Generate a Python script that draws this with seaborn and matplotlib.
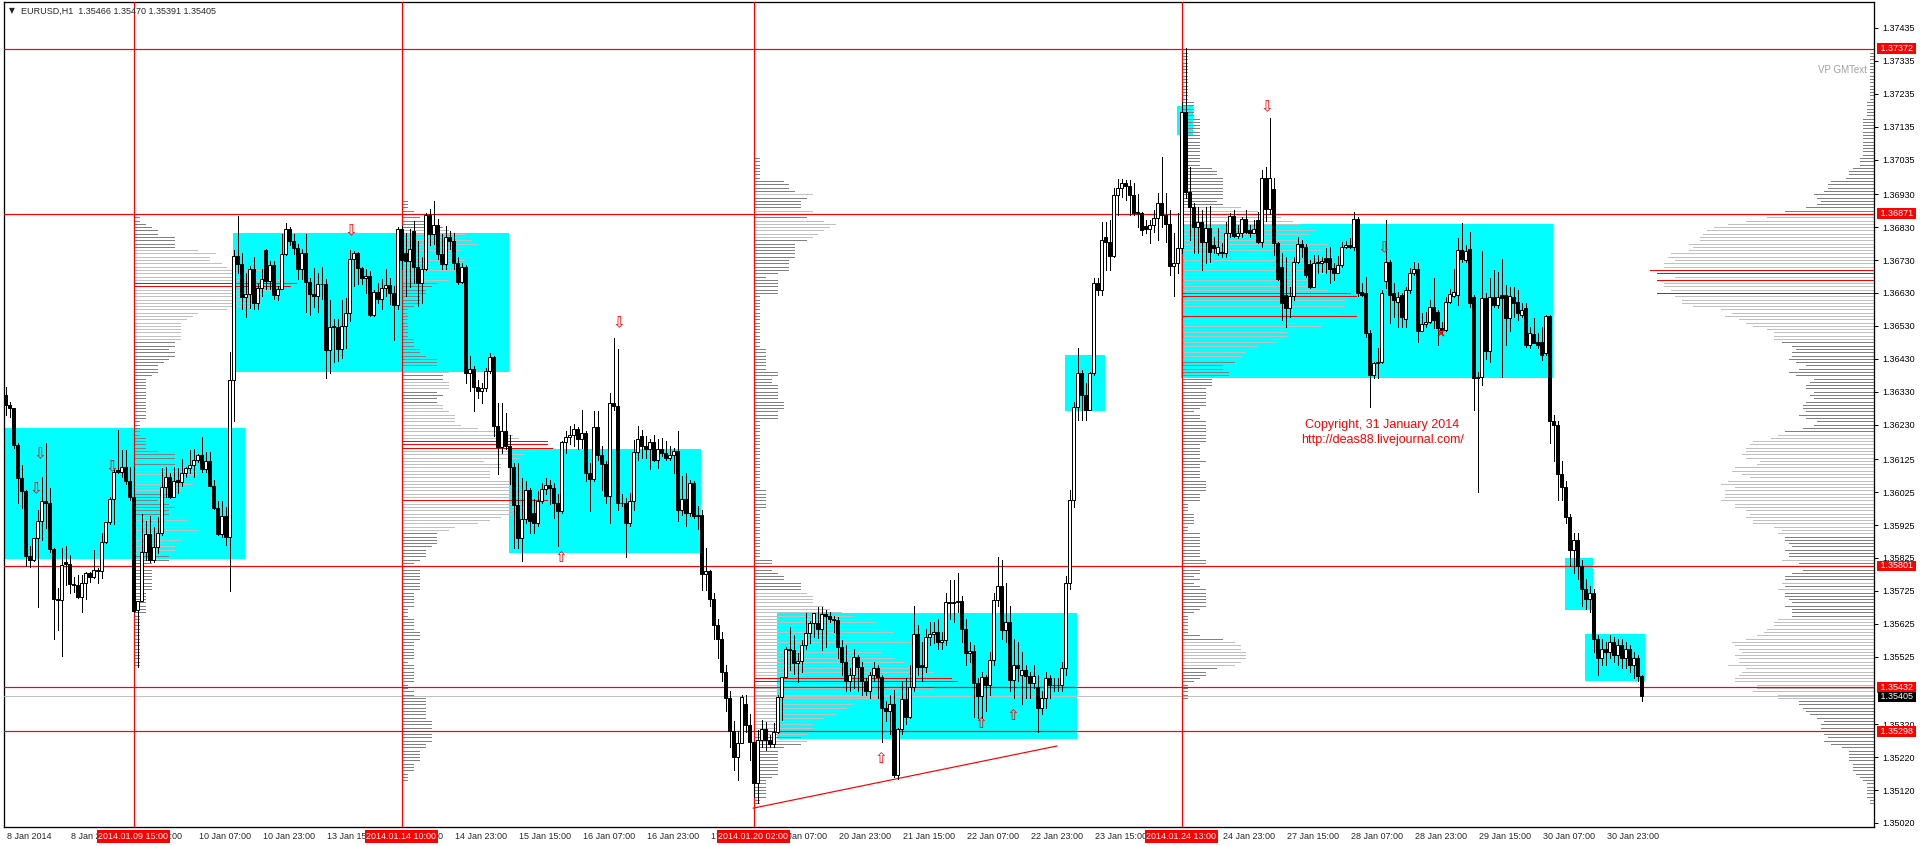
import numpy as np
import pandas as pd
import matplotlib
matplotlib.use("Agg")
import matplotlib.pyplot as plt
import matplotlib.transforms as mtransforms
from matplotlib.patches import Rectangle
import seaborn as sns

# EURUSD H1, bar 0 = 8 Jan 2014 07:00. Prices in pips above 1.35000.
open_pips = [
    132, 129, 128, 116.8, 106.9, 102.7, 83.2, 81.9, 88.5, 93.7,
    99.8, 99.1, 85.2, 69.9, 69.8, 81.4, 80.7, 74.6, 74.4, 70.7,
    74.9, 77.8, 76.6, 78.9, 78.5, 87.3, 93.3, 100.4, 109.2, 108.7,
    110, 106, 101, 66.7, 69.4, 84.2, 89.7, 81.9, 85.7, 90,
    104, 107, 101.1, 106.2, 105.7, 108.2, 109.7, 110.7, 112.3, 113.8,
    109.4, 112, 104.5, 97.6, 89.8, 95.3, 89, 136.5, 174.2, 171.7,
    161.9, 162.6, 170.4, 160, 164.4, 176, 166.6, 171.5, 162.3, 164.3,
    174.7, 182.5, 178.8, 176.6, 170.2, 175, 166.3, 162.6, 162.1, 165.8,
    165.6, 145.7, 152.8, 152.7, 145.9, 153, 157, 173.2, 175.2, 170.7,
    167.7, 168.3, 156.3, 163.4, 161.1, 164.6, 165.3, 162.9, 159.3, 182.5,
    175, 172.7, 181.8, 171, 166.1, 170.4, 186.6, 181, 183.6, 174.7,
    171.7, 180, 178.8, 172.2, 166.3, 171, 138.6, 139.8, 134.5, 133.2,
    134.2, 139.3, 143.6, 122.6, 116.3, 121, 116.5, 110, 98.5, 88.6,
    94.2, 103.1, 96.2, 93, 99.8, 103.5, 104.8, 103.8, 99.2, 96.7,
    117.7, 119.2, 119.8, 121.7, 118.7, 120.5, 108.4, 106.5, 122.4, 113.9,
    110.9, 101.3, 129.7, 128.6, 99.2, 99.1, 93, 99.7, 114.6, 119.5,
    116.5, 115.5, 117.7, 112.4, 115.5, 114.4, 112.9, 113.9, 114.9, 97.2,
    100.5, 96.2, 105.3, 95.2, 95.5, 77.5, 78.5, 70, 62, 58,
    48, 40, 30, 22, 26.2, 38, 31.8, 26.5, 14, 27.2,
    30.4, 27.2, 25.9, 29.7, 40.2, 46.2, 55, 54.6, 50.5, 51.3,
    56.1, 59.6, 62.8, 62.6, 60.8, 65.5, 64.9, 64, 63.8, 55.5,
    51, 45, 47, 52.3, 49.3, 45, 42.2, 46.9, 49.2, 46.2,
    36.8, 36, 38, 16.6, 30.7, 39.6, 34.3, 43.4, 59.4, 50,
    49.3, 58.6, 59.4, 60.1, 57.1, 57.6, 69.2, 68.7, 69.2, 69.5,
    60.8, 53.7, 54.3, 44.4, 40.6, 46.2, 43.9, 51.5, 69.7, 74,
    60.6, 63.2, 45.4, 50, 47, 48.5, 46.6, 44.4, 43.4, 36.8,
    39.9, 46, 44, 43.8, 44, 49, 75, 100, 128.5, 138.6,
    132, 127.5, 138.6, 165.9, 163.9, 180.1, 178.6, 174.2, 192.8, 194.8,
    196.5, 195.5, 192.8, 187.7, 187.2, 183.3, 182.3, 183.6, 185.7, 190.2,
    186.7, 184, 171.2, 172.2, 176.8, 218, 193.8, 189.2, 183.1, 184.7,
    178.6, 182.6, 177.6, 175, 175.5, 175.2, 181.1, 186.4, 180.3, 181.3,
    185.4, 182.1, 181.3, 185.2, 178.6, 197.8, 188.4, 194.5, 178.1, 171,
    162.4, 158.3, 162.1, 172.5, 177.9, 177.1, 171.8, 164.9, 172.5, 172.2,
    173.5, 173.5, 170.5, 169, 171.5, 176.9, 177.6, 177.1, 185.4, 163.4,
    162.9, 150.7, 138.1, 141.6, 142.1, 166.5, 172.5, 162.9, 160.4, 162.4,
    155, 163.9, 169, 170.2, 151.3, 153.6, 154.3, 158.8, 157.3, 152.3,
    151.8, 160.4, 162.2, 162.4, 176.1, 173, 176.3, 161.9, 137.1, 137.6,
    161.4, 145.4, 161.9, 159.4, 162.4, 162.4, 155.3, 161.9, 160.4, 156.3,
    158.3, 147.2, 150.5, 148.2, 148.2, 144.7, 156, 124, 123, 108,
    104, 95, 85, 88, 80, 73, 70, 72, 58, 52,
    55, 54, 57, 53, 56, 52, 55, 50, 52, 46.6,
]
high_pips = [
    134.5, 130, 128.2, 117.3, 110.7, 103, 86, 88.5, 97.1, 107.2,
    117.5, 103.7, 85.6, 73.3, 85.4, 86, 83.4, 76.8, 77.3, 77.3,
    78.3, 78.3, 85, 79.4, 90, 93.5, 100.9, 109.6, 121.4, 115.3,
    115.3, 110, 110, 69.4, 95.8, 93.7, 95.3, 92, 95, 109.7,
    110, 108.2, 110, 109.7, 112.5, 110.2, 115.3, 115.5, 114.1, 119.2,
    114.8, 114.8, 106.2, 99.8, 99.8, 98.1, 145, 176, 186.4, 175.2,
    169, 171.2, 174, 166.1, 170.2, 176.5, 172.7, 172.7, 165, 180.8,
    184.2, 182.9, 180.8, 177.8, 176.3, 180.8, 167.6, 170.7, 169, 170.9,
    167.1, 160.8, 155, 155.2, 161, 161.6, 176.1, 175.7, 175.5, 170.9,
    170.2, 169.7, 163.9, 166.1, 167.1, 170.4, 167.4, 165.1, 183, 183.3,
    181.3, 182.4, 184.9, 178.8, 174, 187.4, 188.6, 191, 185.4, 180.8,
    183.3, 181.8, 181.3, 174, 172, 171.4, 143.8, 140.8, 136.7, 135.7,
    140.3, 144.8, 143.8, 129.7, 129.7, 126.6, 120, 111.4, 111.4, 106.8,
    105.8, 103.8, 100.3, 102.8, 105.3, 106.8, 106.3, 105.3, 101.8, 118,
    121, 122.6, 123.1, 122.4, 127.6, 121, 111.4, 127.1, 127.1, 116.5,
    111.9, 132.5, 149.2, 146.1, 101.8, 100.7, 102.1, 118.3, 122.6, 121.5,
    119.5, 118.5, 120, 118.7, 119, 118, 116.5, 116, 121, 107.4,
    108.4, 106.3, 105.8, 98.2, 97.2, 85.6, 79, 72, 64, 60,
    50, 42, 33, 30, 40.9, 40.9, 35, 27, 30.2, 33.3,
    32.8, 28.7, 32.3, 40.9, 46.4, 55.6, 61.6, 59.1, 53.5, 57.6,
    65.9, 63.3, 65.9, 67.7, 67.7, 66.7, 66.2, 65, 64.6, 57.5,
    56, 49, 55, 53, 51, 46, 48, 51, 50, 47,
    39, 41, 42.4, 31, 45, 46, 50, 68, 62, 57,
    61, 63, 63, 64, 60, 72, 75.8, 75.8, 78, 71,
    64, 57, 56, 46, 48, 47, 54, 72, 82.7, 82,
    75, 68, 58, 57, 54, 50, 48, 50, 47, 42,
    48, 47, 46, 46, 51, 77, 103, 130, 146.2, 139.6,
    135.6, 139, 167.5, 167.5, 184.7, 184.7, 185.2, 194.8, 197.5, 197.5,
    197.3, 197.3, 196.5, 193.1, 187.7, 185.2, 185.2, 188.2, 193.3, 204.4,
    193.3, 188.2, 181.1, 187.2, 221, 237.5, 201.4, 190.2, 189.2, 188.2,
    189.2, 189.4, 180.1, 182.6, 178.1, 184.7, 187.2, 188.2, 183.6, 186.2,
    188.2, 183.6, 185.2, 187.7, 200.4, 201.4, 216.1, 198, 178.6, 175,
    174, 164.9, 174, 180.1, 179.1, 178, 173, 174.5, 174.5, 174,
    176.6, 177.1, 172, 174.2, 178.6, 178.9, 179.6, 187.7, 186, 165.9,
    168, 151.7, 142.1, 146.2, 163.9, 185.2, 173, 165.9, 163.4, 162.9,
    164.9, 170.5, 172.5, 172, 156.8, 157.3, 160.9, 167.5, 157.8, 154.3,
    161.9, 164.1, 170.2, 179.6, 184.4, 177.6, 181.6, 162.4, 139, 175.8,
    163, 167.5, 170, 169.5, 173.2, 165.4, 164.9, 164.9, 163.9, 159.9,
    159.9, 152.8, 155.3, 150.7, 152.8, 156.3, 156.3, 126, 124, 112,
    106, 96, 90, 90, 82, 76, 74, 73, 59, 58,
    57, 59, 58.5, 58, 58, 57, 56, 54, 53, 47,
]
low_pips = [
    126, 125.4, 115.8, 99.1, 97.6, 80.2, 79.7, 81.5, 67.7, 88,
    91.5, 84.4, 58, 60.6, 52.7, 74.3, 71.8, 72.3, 70.2, 66.2,
    70, 75.3, 76.3, 74.8, 76.5, 87, 92.8, 92.8, 108.2, 107.2,
    105, 100, 66, 49.3, 69.4, 81.9, 81.4, 81.4, 84, 89.5,
    101.1, 100.6, 101, 102.2, 104.4, 107.2, 108.2, 107.2, 111.8, 108.7,
    108.7, 104.4, 97.4, 89.5, 89, 86.5, 72.6, 124.1, 169.2, 158,
    155.8, 158.5, 158.2, 158.2, 162.1, 164.1, 164.1, 161.1, 161, 164.1,
    174.4, 177.5, 174.7, 167.1, 167.1, 157.2, 156.2, 158.8, 157.2, 161.1,
    137.2, 138.6, 142, 142.3, 143.3, 146.4, 154.5, 165.1, 165.6, 165.6,
    163.1, 156, 156, 160, 158, 162.1, 159.6, 148.7, 158, 170.2,
    162.1, 164.9, 166.1, 159, 160, 170, 177.5, 178, 173.2, 170.2,
    170.4, 176.3, 170.2, 165.6, 166.1, 135.7, 133.2, 127.1, 131.2, 129.7,
    133.2, 138.8, 119.5, 107.9, 114.4, 115.5, 105, 85.6, 85.6, 81.5,
    93.2, 90.1, 90.1, 92.2, 99.2, 101.8, 99, 94.7, 86.1, 96.2,
    114.4, 117, 116.5, 115.5, 116, 105.8, 96.7, 105.8, 112.4, 103.3,
    99.2, 93, 127.6, 97.2, 98.2, 82.8, 92.2, 97.2, 112.4, 112.9,
    112.9, 109.6, 111.9, 109.9, 113.6, 112.4, 112.4, 108.4, 93.7, 95.7,
    92.2, 95.2, 94.7, 91.2, 72.9, 72.9, 68, 58, 52, 45,
    36, 25, 18, 15, 26.2, 29.7, 21, 10, 8, 25.2,
    24.2, 25.2, 25.2, 29.2, 33.3, 46.2, 48.5, 47.4, 44.9, 48,
    55, 56.6, 58.6, 58.1, 54.5, 55.6, 63.2, 60, 52, 47,
    42, 42, 43, 42, 41, 41, 40, 45, 40, 26.7,
    33, 29, 16.1, 15.5, 29, 32, 34, 42, 47, 45,
    48, 56, 56.6, 55, 55, 56, 64, 63, 66, 57,
    50, 51, 34.3, 34, 34, 36, 41, 50, 68, 58,
    57, 42, 40, 45, 38, 40, 40, 43, 29.7, 35,
    37, 40, 42, 42, 42, 47, 73, 98, 124.4, 124.4,
    124.4, 127.5, 138, 162.4, 162.4, 170, 170, 174, 186.7, 192.3,
    191.3, 186.7, 186.7, 183.1, 180.6, 181.1, 178.3, 181.6, 179.1, 183,
    178.6, 168.5, 162.1, 169, 175, 192, 179.1, 175, 175, 170,
    172, 172.5, 175, 174.5, 174, 174, 180.1, 180.1, 179.6, 180.1,
    181.1, 180.1, 181.1, 178.1, 177.1, 185, 187, 174.5, 167, 154.8,
    152.8, 155.8, 160.9, 172, 174, 168, 164.4, 164.7, 169, 169.5,
    169, 165.9, 167, 169, 170.8, 176.6, 176.6, 176.1, 162, 162,
    149.7, 128.5, 137.1, 137.1, 141.6, 164.4, 153.8, 155.8, 152.8, 152.8,
    152.8, 162.9, 168.5, 148.2, 151.3, 152.8, 153.8, 152.3, 147.2, 150.7,
    151.3, 159.9, 161.9, 159.3, 172.5, 172.5, 158.8, 127.4, 102.5, 135,
    143, 142, 158.8, 158.3, 137.6, 147.2, 151.3, 155.8, 154.8, 155.8,
    146.7, 146.2, 147.7, 146.2, 142.6, 144.2, 117.3, 112, 100, 100,
    93, 80, 78, 76, 68, 67, 66, 54, 47, 50,
    50, 52, 51, 50, 49, 49, 48, 46, 45, 39.1,
]
close_pips = [
    129, 128, 116.8, 106.9, 102.7, 83.2, 81.9, 88.5, 93.7, 99.8,
    99.1, 85.2, 69.9, 69.8, 80.4, 80.7, 74.6, 74.4, 70.7, 74.9,
    77.8, 76.6, 78.9, 78.5, 87.3, 93.3, 100.4, 108.7, 108.7, 110,
    106, 101, 66.5, 69.4, 84.2, 89.7, 81.9, 85.7, 90, 104,
    107, 101.1, 105.9, 105.7, 108.2, 109.7, 110.7, 112.3, 113.8, 109.4,
    112, 104.5, 97.6, 89.8, 95.3, 89, 136.5, 174.2, 171.7, 161.9,
    162.6, 170.4, 160, 164.4, 167.3, 166.6, 171.5, 162.3, 164.3, 174.7,
    182.5, 178.8, 176.6, 170.2, 175, 166.3, 162.6, 162.1, 165.8, 165.6,
    145.7, 152.8, 152.7, 145.9, 153, 157, 173.2, 175.2, 170.7, 167.7,
    168.3, 156.3, 163.4, 161.1, 164.6, 165.3, 162.9, 159.3, 182.5, 173,
    172.7, 176.3, 171, 166.1, 170.4, 186.6, 181, 183.6, 174.7, 171.7,
    180, 178.8, 172.2, 166.3, 171, 138.6, 139.8, 134.5, 133.2, 134.2,
    139.3, 143.6, 122.6, 116.3, 121, 116.5, 110, 98.5, 88.6, 94.2,
    103.1, 93.7, 93, 99.8, 103.5, 104.8, 103.8, 99.2, 96.7, 117.7,
    119.2, 119.8, 121.7, 118.7, 120.5, 108.4, 106.5, 122.4, 113.9, 110.9,
    101.3, 129.7, 128.6, 99.2, 99.1, 93, 99.7, 114.6, 118.7, 116.5,
    115.5, 117.7, 112.4, 115.5, 114.4, 112.9, 113.9, 114.9, 97.2, 100.5,
    96.2, 105.3, 95.2, 95.5, 77.5, 78.5, 70, 62, 58, 48,
    40, 30, 22, 26.2, 40.4, 31.8, 26.5, 14, 27.2, 30.4,
    27.2, 25.9, 29.7, 40.2, 46.2, 55, 54.6, 50.5, 51.3, 56.1,
    59.6, 62.8, 65.7, 60.8, 65.5, 64.9, 64, 63.8, 55.5, 51,
    45, 47, 52.3, 49.3, 45, 42.2, 46.9, 49.2, 46.2, 36.8,
    36, 38, 16.6, 30.7, 39.6, 34.3, 43.4, 59.4, 49.3, 49.3,
    58.6, 59.4, 60.1, 57.1, 57.6, 69.2, 68.7, 69.2, 69.5, 60.8,
    53.7, 54.3, 44.4, 40.6, 46.2, 43.9, 51.5, 69.7, 74, 60.6,
    63.2, 45.4, 50, 49, 48.5, 46.6, 44.4, 46.5, 36.8, 39.9,
    46, 44, 43.8, 44, 49, 75, 100, 128.5, 138.6, 132,
    127.5, 138.6, 165.9, 163.9, 179.1, 178.6, 174.2, 192.8, 194.8, 196.5,
    195.5, 192.8, 187.4, 187.2, 182.1, 182.3, 183.6, 185.7, 190.2, 186.7,
    184, 171.2, 172.2, 176.8, 218, 193.8, 189.2, 183.1, 184.7, 178.6,
    182.6, 175.5, 176.6, 177.1, 175.2, 181.1, 186.4, 180.3, 181.3, 185.4,
    181.6, 181.3, 182.3, 178.6, 197.8, 188.4, 197.8, 178.1, 167.1, 159.9,
    158.3, 162.1, 172.5, 177.9, 177.1, 168.5, 164.9, 172.2, 172.2, 172.8,
    172.5, 170.2, 169, 171.5, 176.9, 177.6, 177.1, 185.4, 162.9, 162.4,
    150.7, 138.1, 141.6, 142.1, 162.9, 172.5, 162.4, 160.9, 161.9, 155.8,
    163.9, 169, 170.2, 151.3, 153.6, 154.3, 158.8, 154.8, 152.3, 151.8,
    160.4, 162.7, 163.2, 176.1, 173.2, 175.8, 159.9, 137.1, 137.6, 161.4,
    145.4, 161.9, 159.4, 161.9, 161.4, 155.3, 162.1, 159.9, 156.8, 157.8,
    147.2, 150.7, 147.9, 147.2, 144.2, 156, 124, 123, 108, 104,
    95, 85, 88, 80, 73, 70, 72, 58, 52, 55,
    54, 57, 53, 56, 52, 55, 50, 52, 46.6, 40.5,
]

# session starts (red vertical lines) and their labels
session_bar = [32, 99, 187, 294]
session_label = ["2014.01.09 15:00", "2014.01.14 10:00", "2014.01.20 02:00", "2014.01.24 13:00"]

# horizontal levels
level_price = [1.37372, 1.36871, 1.35801, 1.35432, 1.35298]
bid_price = 1.35405

# cyan range boxes (bar range, pips range)
box_first = [0, 57, 126, 193, 265, 293, 294, 390, 395]
box_last = [60, 126, 174, 268, 275, 297, 387, 397, 410]
box_low = [82.2, 139.1, 84.1, 27.5, 127.0, 211.0, 137.3, 66.7, 45.1]
box_high = [122.0, 181.3, 115.6, 65.8, 144.2, 219.8, 184.0, 82.5, 59.4]

# arrows
down_bar = [8.6, 7.6, 26.6, 86.4, 153.4, 315.4, 344.5]
down_pips = [114.1, 103.4, 110.2, 181.8, 153.9, 219.6, 176.6]
up_bar = [138.8, 218.9, 243.8, 251.8]
up_pips = [82.7, 21.7, 32.1, 34.5]
cross_bar = [358.8]
cross_pips = [150.8]

# trend line anchors
trend_bar = [186.9, 262.9]
trend_pips = [6.5, 25.4]

time_labels = [
    "8 Jan 2014", "8 Jan 23:00", "9 Jan 15:00", "10 Jan 07:00", "10 Jan 23:00",
    "13 Jan 15:00", "14 Jan 07:00", "14 Jan 23:00", "15 Jan 15:00", "16 Jan 07:00",
    "16 Jan 23:00", "17 Jan 15:00", "20 Jan 07:00", "20 Jan 23:00", "21 Jan 15:00",
    "22 Jan 07:00", "22 Jan 23:00", "23 Jan 15:00", "24 Jan 07:00", "24 Jan 23:00",
    "27 Jan 15:00", "28 Jan 07:00", "28 Jan 23:00", "29 Jan 15:00", "30 Jan 07:00",
    "30 Jan 23:00",
]
price_ticks = [
    1.37435, 1.37335, 1.37235, 1.37135, 1.37035, 1.36930, 1.36830, 1.36730,
    1.36630, 1.36530, 1.36430, 1.36330, 1.36230, 1.36125, 1.36025, 1.35925,
    1.35825, 1.35725, 1.35625, 1.35525, 1.35320, 1.35220, 1.35120, 1.35020,
]

assert len(open_pips) == len(high_pips) == len(low_pips) == len(close_pips) == 410


def to_price(p):
    return 1.35 + np.asarray(p, dtype=float) / 10000.0


RED = "#ff0000"
LIGHT = "#c0c0c0"
DARK = "#808080"


def volume_profile(first, last):
    lo = np.array(low_pips[first:last])
    hi = np.array(high_pips[first:last])
    levels = np.arange(np.floor(lo.min()), np.ceil(hi.max()) + 1)
    counts = ((levels[:, None] >= lo[None, :]) & (levels[:, None] <= hi[None, :])).sum(axis=1)
    order = np.argsort(-counts, kind="stable")
    cum = np.cumsum(counts[order])
    in_va = np.zeros(len(levels), dtype=bool)
    in_va[order[: np.searchsorted(cum, 0.7 * cum[-1]) + 1]] = True
    colors = np.where(counts >= 0.95 * counts.max(), RED, np.where(in_va, LIGHT, DARK))
    return levels, counts, colors


sns.set_style("white")
plt.rcParams["font.family"] = ["Liberation Sans", "DejaVu Sans"]

W, H = 1920, 846
fig = plt.figure(figsize=(W / 100, H / 100), dpi=100)
fig.patch.set_facecolor("white")
ax = fig.add_axes([4 / W, 19 / H, 1870 / W, 825 / H])
ax.set_facecolor("white")

x_left, x_right = -0.375, 467.125
ax.set_xlim(x_left, x_right)
ax.set_ylim(1.350078, 1.375139)

px = 0.72  # one pixel in points

# cyan boxes
for f, l, lo, hi in zip(box_first, box_last, box_low, box_high):
    ax.add_patch(Rectangle((f - 0.2, to_price(lo)), l - f, to_price(hi) - to_price(lo),
                           facecolor="#00ffff", edgecolor="none", zorder=1))

# session volume profiles
bar_per_count = 1.45
ends = session_bar[1:] + [len(close_pips)]
for s, e in zip(session_bar, ends):
    lv, cnt, col = volume_profile(s, e)
    ax.hlines(to_price(lv), s, s + cnt * bar_per_count, colors=col, lw=px,
              zorder=2, antialiased=False)

# right-hand profile over the whole chart
lv, cnt, col = volume_profile(0, len(close_pips))
right_len = 56.0 / cnt.max()
ax.hlines(to_price(lv), x_right - cnt * right_len, x_right, colors=col, lw=px,
          zorder=2, antialiased=False)

# level lines
for p in level_price:
    ax.axhline(p, color=RED, lw=px * 1.2, zorder=3)
ax.axhline(bid_price, color=LIGHT, lw=px, zorder=3)
for b in session_bar:
    ax.axvline(b, color=RED, lw=px * 1.2, zorder=3)

# trend line
trend = pd.DataFrame({"bar": trend_bar, "price": to_price(trend_pips)})
sns.lineplot(data=trend, x="bar", y="price", color=RED, lw=px * 1.2, ax=ax, zorder=3)

# candles
xs = np.arange(len(close_pips))
o = to_price(open_pips)
c = to_price(close_pips)
ax.vlines(xs, to_price(low_pips), to_price(high_pips), color="black", lw=px,
          zorder=4, antialiased=False)
bull = c >= o
body_h = np.maximum(np.abs(c - o), 0.000012)
ax.bar(xs[bull], body_h[bull], bottom=np.minimum(o, c)[bull], width=0.6,
       facecolor="white", edgecolor="black", linewidth=px, zorder=5)
ax.bar(xs[~bull], body_h[~bull], bottom=np.minimum(o, c)[~bull], width=0.6,
       facecolor="black", edgecolor="black", linewidth=px, zorder=5)

# arrows
for b, p in zip(down_bar, down_pips):
    ax.text(b, to_price(p), "\u21e9", color=RED, fontsize=11, ha="center", va="center",
            family=["DejaVu Sans"], zorder=6)
for b, p in zip(up_bar, up_pips):
    ax.text(b, to_price(p), "\u21e7", color=RED, fontsize=11, ha="center", va="center",
            family=["DejaVu Sans"], zorder=6)
ax.plot(cross_bar, to_price(cross_pips), "x", color=RED, ms=4, mew=1.2, zorder=6)

# axes frame and ticks
for sp in ax.spines.values():
    sp.set_color("black")
    sp.set_linewidth(px * 1.3)
ax.yaxis.tick_right()
ax.set_yticks(price_ticks)
ax.set_yticklabels([f"{p:.5f}" for p in price_ticks])
ax.tick_params(axis="y", length=3, width=px, pad=3, labelsize=6.5, colors="black")
tick_bars = [16 * k for k in range(len(time_labels))]
ax.set_xticks(tick_bars)
ax.set_xticklabels([])
ax.tick_params(axis="x", length=3, width=px, direction="out")
ax.set_xlabel("")
ax.set_ylabel("")
ax.grid(False)

xtrans = mtransforms.blended_transform_factory(ax.transData, ax.transAxes)
for b, lab in zip(tick_bars, time_labels):
    ax.text(b + 0.3, -0.0062, lab, transform=xtrans, ha="left", va="top", fontsize=6.5, zorder=7)
for b, lab in zip(session_bar, session_label):
    ax.text(b, -0.0062, lab, transform=xtrans, ha="center", va="top", fontsize=6.5,
            color="white", zorder=8,
            bbox=dict(boxstyle="square,pad=0.22", facecolor=RED, edgecolor="none"))

ytrans = mtransforms.blended_transform_factory(ax.transAxes, ax.transData)
for p in level_price:
    ax.text(1.0 + 4 / 1870, p, f" {p:.5f} ", transform=ytrans, ha="left", va="center",
            fontsize=6.5, color="white", zorder=8,
            bbox=dict(boxstyle="square,pad=0.08", facecolor=RED, edgecolor="none"))
ax.text(1.0 + 4 / 1870, bid_price - 0.000015, f" {bid_price:.5f} ", transform=ytrans, ha="left",
        va="center", fontsize=6.5, color="white", zorder=8,
        bbox=dict(boxstyle="square,pad=0.05", facecolor="black", edgecolor="none"))

# header and captions
fig.text(11.5 / W, 1 - 11 / H, "\u25bc", fontsize=5.5, ha="center", va="center",
         family=["DejaVu Sans"])
fig.text(21 / W, 1 - 11 / H, "EURUSD,H1  1.35466 1.35470 1.35391 1.35405",
         fontsize=6.5, ha="left", va="center")
fig.text(1867 / W, 1 - 70 / H, "VP GMText", fontsize=7, ha="right", va="center",
         color="#a0a0a0")
fig.text(1382 / W, 1 - 425 / H, "Copyright, 31 January 2014", fontsize=9,
         ha="center", va="center", color=RED)
fig.text(1383 / W, 1 - 440 / H, "http://deas88.livejournal.com/", fontsize=9,
         ha="center", va="center", color=RED)

fig.savefig("out.png", dpi=100, facecolor="white")
